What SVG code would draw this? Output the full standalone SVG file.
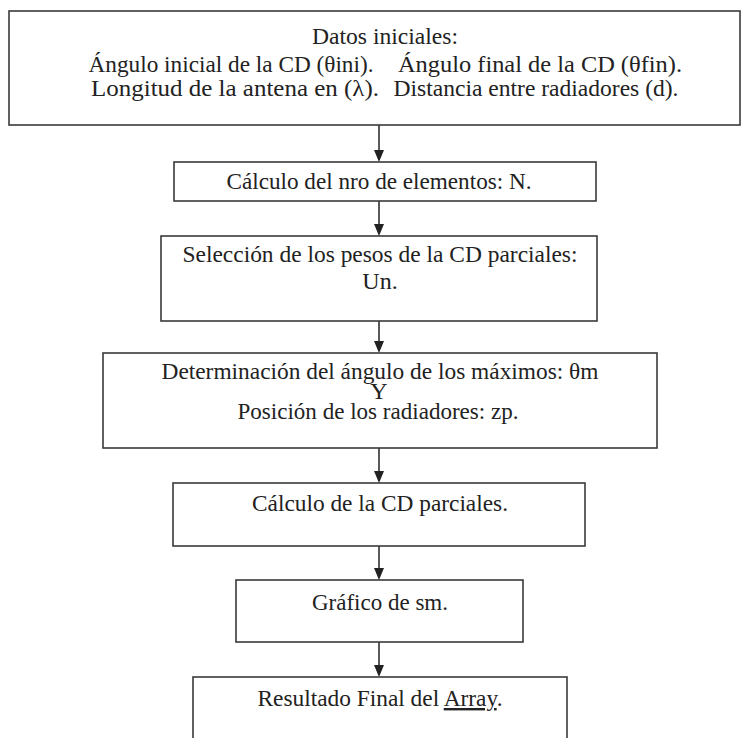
<svg xmlns="http://www.w3.org/2000/svg" width="741" height="738" viewBox="0 0 741 738">
<style>
.box{fill:#ffffff;stroke:#3a3a3a;stroke-width:1.6}
.t{font-family:"Liberation Serif","Times New Roman",serif;font-size:24px;fill:#222;text-anchor:middle}
.c{stroke:#222;stroke-width:1.5;fill:none}
.ah{fill:#222}
</style>
<rect width="741" height="738" fill="#ffffff"/>
<g id="connectors">
<line class="c" x1="379" y1="125" x2="379" y2="151"/><path class="ah" d="M374,150 L384,150 L379,162 Z"/>
<line class="c" x1="379" y1="201" x2="379" y2="225"/><path class="ah" d="M374,224 L384,224 L379,236 Z"/>
<line class="c" x1="379" y1="321" x2="379" y2="342"/><path class="ah" d="M374,341 L384,341 L379,353 Z"/>
<line class="c" x1="379" y1="448" x2="379" y2="472"/><path class="ah" d="M374,471 L384,471 L379,483 Z"/>
<line class="c" x1="379" y1="546" x2="379" y2="569"/><path class="ah" d="M374,568 L384,568 L379,580 Z"/>
<line class="c" x1="379" y1="642" x2="379" y2="666"/><path class="ah" d="M374,665 L384,665 L379,677 Z"/>
</g>
<g id="datos">
<rect class="box" x="9" y="11" width="731" height="114"/>
<text class="t" x="385" y="44" textLength="146" lengthAdjust="spacingAndGlyphs">Datos iniciales:</text>
<text class="t" x="231" y="72" textLength="285" lengthAdjust="spacingAndGlyphs">Ángulo inicial de la CD (θini).</text>
<text class="t" x="540" y="72" textLength="284" lengthAdjust="spacingAndGlyphs">Ángulo final de la CD (θfin).</text>
<text class="t" x="235" y="96" textLength="288" lengthAdjust="spacingAndGlyphs">Longitud de la antena en (λ).</text>
<text class="t" x="536" y="96" textLength="285" lengthAdjust="spacingAndGlyphs">Distancia entre radiadores (d).</text>
</g>
<g id="calculo-n">
<rect class="box" x="174" y="162" width="422" height="39"/>
<text class="t" x="379" y="189" textLength="305" lengthAdjust="spacingAndGlyphs">Cálculo del nro de elementos: N.</text>
</g>
<g id="seleccion">
<rect class="box" x="161" y="236" width="436" height="85"/>
<text class="t" x="380" y="262" textLength="395" lengthAdjust="spacingAndGlyphs">Selección de los pesos de la CD parciales:</text>
<text class="t" x="380" y="289">Un.</text>
</g>
<g id="determinacion">
<rect class="box" x="103" y="353" width="554" height="95"/>
<text class="t" x="380" y="379" textLength="437" lengthAdjust="spacingAndGlyphs">Determinación del ángulo de los máximos: θm</text>
<text class="t" x="379" y="399">Y</text>
<text class="t" x="378" y="419" textLength="281" lengthAdjust="spacingAndGlyphs">Posición de los radiadores: zp.</text>
</g>
<g id="calculo-cd">
<rect class="box" x="173" y="483" width="412" height="63"/>
<text class="t" x="380" y="511" textLength="256" lengthAdjust="spacingAndGlyphs">Cálculo de la CD parciales.</text>
</g>
<g id="grafico">
<rect class="box" x="236" y="580" width="287" height="62"/>
<text class="t" x="380" y="610" textLength="136" lengthAdjust="spacingAndGlyphs">Gráfico de sm.</text>
</g>
<g id="resultado">
<rect class="box" x="193" y="677" width="374" height="70"/>
<text class="t" x="380" y="706" textLength="245" lengthAdjust="spacingAndGlyphs">Resultado Final del <tspan text-decoration="underline">Array</tspan>.</text>
</g>
</svg>
